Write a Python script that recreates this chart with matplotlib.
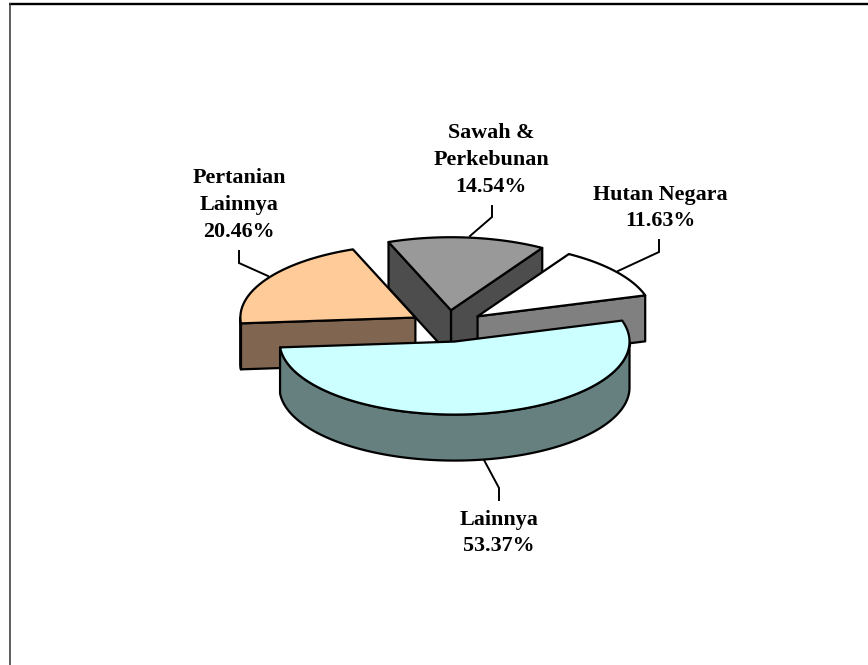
import numpy as np
from matplotlib import pyplot as plt
from matplotlib.patches import Polygon

# slices in drawing order round the pie, counter clockwise from the right
slice_names = ['Hutan Negara', 'Sawah &\nPerkebunan', 'Pertanian\nLainnya', 'Lainnya']
slice_values = [11.63, 14.54, 20.46, 53.37]

top_colors = ['#FFFFFF', '#999999', '#FFCC99', '#CCFFFF']
side_colors = ['#808080', '#4D4D4D', '#806650', '#668080']

# pie geometry in pixels
cx, cy = 447.5, 326
rx, ry = 175, 73
depth = 46
explode = 0.217
start_angle = 16.7

label_pos = [(660, 208), (491, 160), (239, 205), (499, 533)]
leaders = [
    [(618, 271), (659, 252), (659, 240)],
    [(470, 236), (492, 217), (492, 206)],
    [(268, 276), (239, 263), (239, 251)],
    [(484, 460), (499, 488), (499, 500)],
]

plt.rcParams['font.family'] = ['Liberation Serif', 'DejaVu Serif']

fig = plt.figure(figsize=(8.68, 6.65), dpi=100)
ax = fig.add_axes([0, 0, 1, 1])
ax.set_xlim(0, 868)
ax.set_ylim(665, 0)
ax.axis('off')

# frame, only top and left are inside the picture
ax.plot([9, 868], [3.8, 3.8], color='black', lw=1.7, solid_capstyle='butt')
ax.plot([9.5, 9.5], [3, 665], color='#333333', lw=1.1, solid_capstyle='butt')


def rim_points(x0, y0, a, b):
    t = np.radians(np.linspace(a, b, 200))
    return np.column_stack([x0 + rx * np.cos(t), y0 - ry * np.sin(t)])


def add_poly(points, color, z):
    ax.add_patch(Polygon(points, closed=True, facecolor=color, edgecolor='black',
                         lw=1.6, joinstyle='round', zorder=z))


angles = start_angle + np.cumsum([0] + slice_values) * 3.6
# back slices first, the big front one goes last
for z, i in zip([2, 6, 10, 14], [1, 0, 2, 3]):
    a, b = angles[i], angles[i + 1]
    mid = np.radians((a + b) / 2)
    x0 = cx + explode * rx * np.cos(mid)
    y0 = cy - explode * ry * np.sin(mid)

    # flat cut walls, only those turned towards us
    for ang, seen in ((a, np.cos(np.radians(a)) > 0), (b, np.cos(np.radians(b)) < 0)):
        if not seen:
            continue
        edge = rim_points(x0, y0, ang, ang)[0]
        wall = [(x0, y0), edge, (edge[0], edge[1] + depth), (x0, y0 + depth)]
        add_poly(wall, side_colors[i], z)

    # outer wall, only the part facing us
    lo, hi = max(a, 180), min(b, 360)
    if lo < hi:
        rim = rim_points(x0, y0, lo, hi)
        lower = rim[::-1] + [0, depth]
        add_poly(np.vstack([rim, lower]), side_colors[i], z + 1)

    top = np.vstack([[(x0, y0)], rim_points(x0, y0, a, b)])
    add_poly(top, top_colors[i], z + 2)

for i, name in enumerate(slice_names):
    xs, ys = zip(*leaders[i])
    ax.plot(xs, ys, color='black', lw=1.4, zorder=20, solid_joinstyle='miter')
    ax.text(label_pos[i][0], label_pos[i][1], f'{name}\n{slice_values[i]:.2f}%',
            ha='center', va='center', fontsize=15.8, fontweight='bold',
            linespacing=1.45, color='black', zorder=21)

plt.savefig('out.png', dpi=100)
